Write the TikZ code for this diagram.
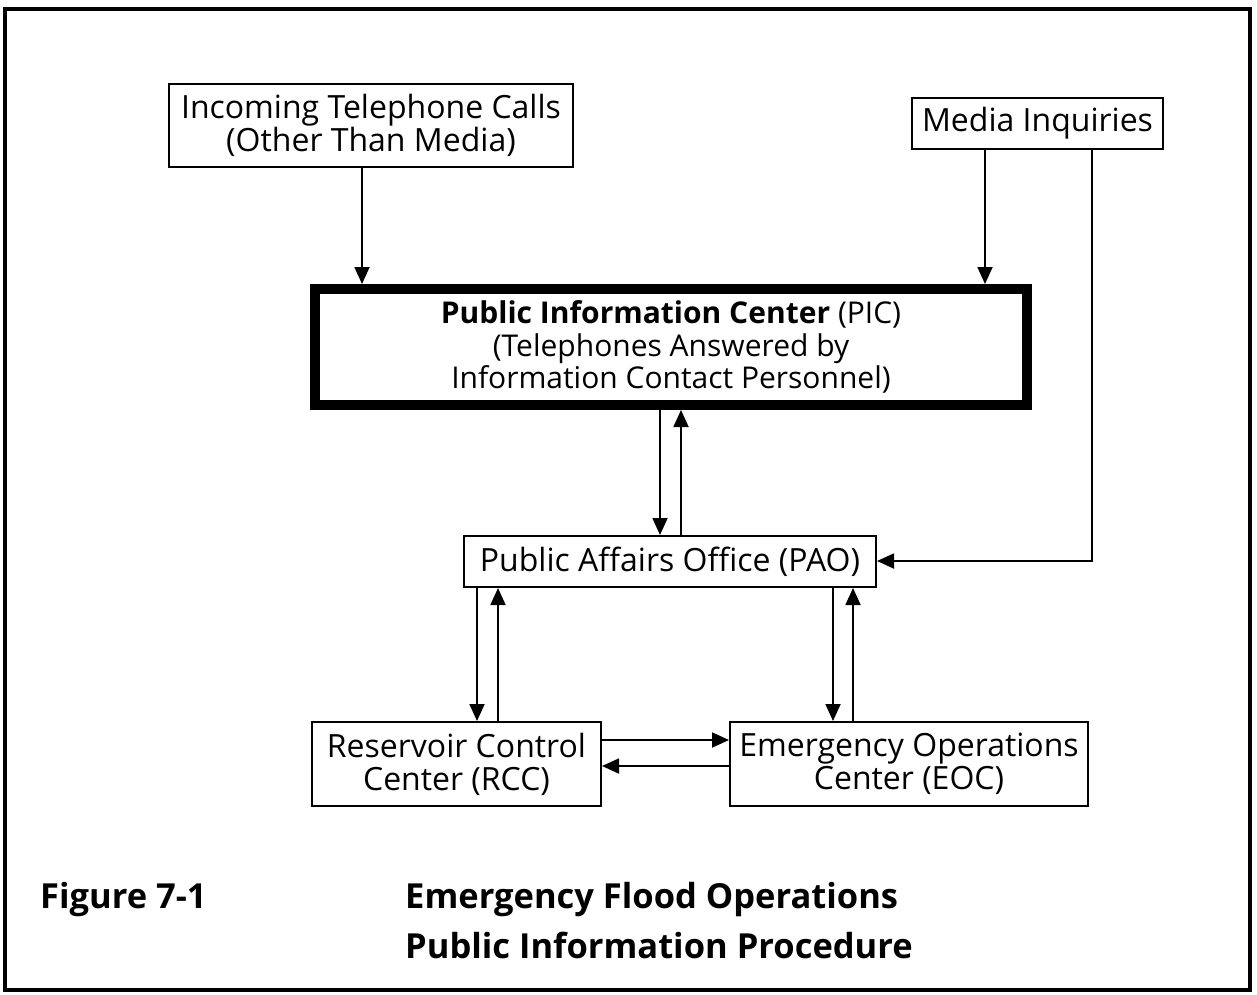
\documentclass[tikz,border=0pt]{standalone}
\usepackage{fontspec}
\setmainfont{Open Sans}
\usetikzlibrary{arrows.meta}
\tikzset{
  box/.style={draw, line width=2pt, align=center, inner sep=0pt,
    font=\fontsize{32}{33}\selectfont},
  bigbox/.style={draw, line width=10pt, align=center, inner sep=0pt,
    font=\fontsize{30}{32.5}\selectfont},
  arr/.style={line width=1.8pt, -{Triangle[length=17pt,width=15pt]}},
  caption/.style={anchor=west, inner sep=0pt, font=\bfseries\fontsize{34.5}{45}\selectfont}
}
\begin{document}
\begin{tikzpicture}[x=1pt,y=-1pt]
\useasboundingbox (0,0) rectangle (1257,994);
\draw[line width=3.5pt] (5,9) rectangle (1250,990);

\node[box, minimum width=404pt, minimum height=83pt] (inc) at (371,125.5)
  {Incoming Telephone Calls\\(Other Than Media)};
\node[box, minimum width=251pt, minimum height=51pt] (media) at (1037.5,123.5)
  {Media Inquiries};
\node[bigbox, minimum width=712pt, minimum height=116pt] (pic) at (671,347)
  {\textbf{Public Information Center} (PIC)\\(Telephones Answered by\\Information Contact Personnel)};
\node[box, minimum width=412pt, minimum height=51pt] (pao) at (670,561.5)
  {Public Affairs Office (PAO)};
\node[box, minimum width=289pt, minimum height=84pt] (rcc) at (456.5,764)
  {Reservoir Control\\Center (RCC)};
\node[box, minimum width=358pt, minimum height=84pt] (eoc) at (909,764)
  {Emergency Operations\\Center (EOC)};

\coordinate (x1) at (362,0);
\coordinate (x2) at (985,0);
\coordinate (x3) at (660,0);
\coordinate (x4) at (681,0);
\coordinate (x5) at (477,0);
\coordinate (x6) at (498,0);
\coordinate (x7) at (833,0);
\coordinate (x8) at (853,0);
\coordinate (x9) at (1092,0);
\coordinate (y1) at (0,740);
\coordinate (y2) at (0,766);
\coordinate (y3) at (0,561);

\draw[arr] (inc.south -| x1) -- (pic.north -| x1);
\draw[arr] (media.south -| x2) -- (pic.north -| x2);
\draw[arr] (pic.south -| x3) -- (pao.north -| x3);
\draw[arr] (pao.north -| x4) -- (pic.south -| x4);
\draw[arr] (pao.south -| x5) -- (rcc.north -| x5);
\draw[arr] (rcc.north -| x6) -- (pao.south -| x6);
\draw[arr] (pao.south -| x7) -- (eoc.north -| x7);
\draw[arr] (eoc.north -| x8) -- (pao.south -| x8);
\draw[arr] (rcc.east |- y1) -- (eoc.west |- y1);
\draw[arr] (eoc.west |- y2) -- (rcc.east |- y2);
\draw[arr] (media.south -| x9) -- (x9 |- y3) -- (pao.east |- y3);

\node[caption] (fig) at (40,900) {Figure 7-1};
\node[caption] (t1) at (405,900) {Emergency Flood Operations};
\node[caption] (t2) at (405,945) {Public Information Procedure};
\end{tikzpicture}
\end{document}
